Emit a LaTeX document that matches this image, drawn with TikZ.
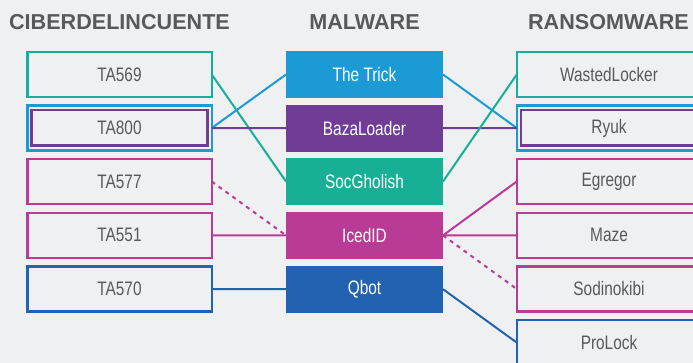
\documentclass[tikz,border=0pt]{standalone}
\usepackage{fontspec}
\setmainfont{Liberation Sans}
\newfontfamily\headfont{Liberation Sans}
\newfontfamily\condfont[FakeStretch=0.79]{Liberation Sans}
\definecolor{bgc}{HTML}{EFF0F2}
\definecolor{txtc}{HTML}{58595B}
\definecolor{teal}{HTML}{17B096}
\definecolor{sky}{HTML}{1C9AD6}
\definecolor{plum}{HTML}{713C96}
\definecolor{magen}{HTML}{B93B95}
\definecolor{navy}{HTML}{2163B0}
\tikzset{
  header/.style={font=\headfont\bfseries\fontsize{21.6}{24}\selectfont, text=txtc, anchor=base},
  outerbox/.style={draw=#1, line width=2.5pt, minimum width=184.5pt, minimum height=45pt,
    inner sep=0pt, outer sep=0pt, font=\condfont\fontsize{19.5}{22}\selectfont, text=txtc},
  innerbox/.style={draw=#1, line width=2.5pt, minimum width=176pt, minimum height=35.5pt,
    inner sep=0pt, outer sep=0pt},
  malbox/.style={fill=#1, minimum width=157pt, minimum height=46.7pt, inner sep=0pt,
    outer sep=0pt, font=\condfont\fontsize{19.5}{22}\selectfont, text=white},
  link/.style={draw=#1, line width=2pt},
  dlink/.style={draw=#1, line width=2pt, dash pattern=on 4pt off 4.5pt}
}
\begin{document}
\begin{tikzpicture}[x=1pt,y=-1pt]
\useasboundingbox (0,0) rectangle (693,363);
\fill[bgc] (0,0) rectangle (693,363);
\begin{scope}
\clip (0,0) rectangle (693,363);

% column titles
\node[header] (h1) at (119.5,30) {CIBERDELINCUENTE};
\node[header] (h2) at (364.5,30) {MALWARE};
\node[header] (h3) at (608.5,30) {RANSOMWARE};

% threat actors
\node[outerbox=teal]  (ta569) at (119.5,74.5) {TA569};
\node[outerbox=sky]   (ta800) at (119.5,128)  {};
\node[innerbox=plum]  (ta800i) at (ta800.center) {};
\node[font=\condfont\fontsize{19.5}{22}\selectfont, text=txtc] (ta800t) at (ta800.center) {TA800};
\node[outerbox=magen] (ta577) at (119.5,181.5) {TA577};
\node[outerbox=magen] (ta551) at (119.5,235.3) {TA551};
\node[outerbox=navy]  (ta570) at (119.5,289)  {TA570};

% malware families
\node[malbox=sky]   (trick) at (364.5,74.5)  {The Trick};
\node[malbox=plum]  (baza)  at (364.5,128.2) {BazaLoader};
\node[malbox=teal]  (socg)  at (364.5,181.5) {SocGholish};
\node[malbox=magen] (iced)  at (364.5,235.4) {IcedID};
\node[malbox=navy]  (qbot)  at (364.5,289.2) {Qbot};

% ransomware
\node[outerbox=teal]  (wasted) at (609,74.5)  {WastedLocker};
\node[outerbox=sky]   (ryuk)   at (609,128)   {};
\node[innerbox=plum]  (ryuki)  at (ryuk.center) {};
\node[font=\condfont\fontsize{19.5}{22}\selectfont, text=txtc] (ryukt) at (ryuk.center) {Ryuk};
\node[outerbox=magen] (egreg)  at (609,181.5) {Egregor};
\node[outerbox=magen] (maze)   at (609,235.3) {Maze};
\node[outerbox=magen] (sodin)  at (609,289)   {Sodinokibi};
\node[outerbox=navy]  (prolock) at (609,342.6) {ProLock};

% actor -> malware
\draw[link=teal]   (ta569.east) -- (socg.west);
\draw[link=sky]    (ta800.east) -- (trick.west);
\draw[link=plum]   (ta800.east) -- (baza.west);
\draw[dlink=magen] (ta577.east) -- (iced.west);
\draw[link=magen]  (ta551.east) -- (iced.west);
\draw[link=navy]   (ta570.east) -- (qbot.west);

% malware -> ransomware
\draw[link=sky]    (trick.east) -- (ryuk.west);
\draw[link=plum]   (baza.east) -- (ryuk.west);
\draw[link=teal]   (socg.east) -- (wasted.west);
\draw[link=magen]  (iced.east) -- (egreg.west);
\draw[link=magen]  (iced.east) -- (maze.west);
\draw[dlink=magen] (iced.east) -- (sodin.west);
\draw[link=navy]   (qbot.east) -- (prolock.west);
\end{scope}
\end{tikzpicture}
\end{document}
